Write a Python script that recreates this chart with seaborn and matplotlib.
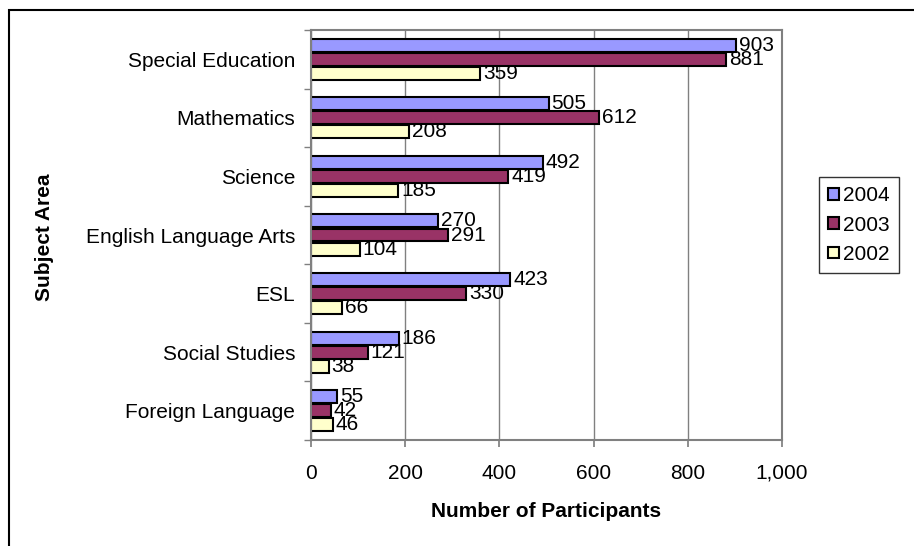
import matplotlib
matplotlib.use("Agg")
import matplotlib.pyplot as plt
import seaborn as sns
import pandas as pd
import numpy as np
from matplotlib.patches import Rectangle
from matplotlib.ticker import FuncFormatter, FixedLocator

subjects = ["Special Education", "Mathematics", "Science", "English Language Arts",
            "ESL", "Social Studies", "Foreign Language"]
years = ["2004", "2003", "2002"]
v2004 = [903, 505, 492, 270, 423, 186, 55]
v2003 = [881, 612, 419, 291, 330, 121, 42]
v2002 = [359, 208, 185, 104, 66, 38, 46]
colors = ["#9999FF", "#993366", "#FFFFCC"]

rows = []
for y, vals in zip(years, [v2004, v2003, v2002]):
    for s, v in zip(subjects, vals):
        rows.append({"Subject": s, "Year": y, "Value": v})
df = pd.DataFrame(rows)

sns.set_theme(style="white")
plt.rcParams['font.family'] = ['Liberation Sans', 'DejaVu Sans']
for k in ["text.color", "axes.labelcolor", "xtick.labelcolor", "ytick.labelcolor"]:
    plt.rcParams[k] = "black"

FS = 15

fig = plt.figure(figsize=(9.14, 5.46), dpi=100)
ax = fig.add_axes([311/914, 1-440/546, (782-311)/914, (440-30)/546])

sns.barplot(data=df, y="Subject", x="Value", hue="Year", order=subjects,
            hue_order=years, palette=colors, orient="h", width=0.72, gap=0.08,
            saturation=1, edgecolor="black", linewidth=1.5, ax=ax)

for c in ax.containers:
    ax.bar_label(c, padding=2, fontsize=FS, color="black")

ax.set_xlim(0, 1000)
ax.set_xticks([0, 200, 400, 600, 800, 1000])
ax.xaxis.set_major_formatter(FuncFormatter(lambda v, p: f"{int(v):,}"))
ax.grid(axis="x", color="#808080", linewidth=1)
ax.grid(axis="y", visible=False)
ax.set_axisbelow(True)
for sp in ax.spines.values():
    sp.set_visible(True)
    sp.set_color("#808080")
    sp.set_linewidth(1.5)

ax.tick_params(axis="x", which="major", direction="out", length=5, color="#808080",
               labelsize=FS, pad=12, bottom=True, labelcolor="black")
ax.tick_params(axis="y", which="major", length=0, labelsize=FS, pad=11.5, labelcolor="black")
ax.yaxis.set_minor_locator(FixedLocator(np.arange(-0.5, 7, 1)))
ax.tick_params(axis="y", which="minor", direction="out", length=5, color="#808080", left=True)

ax.set_xlabel("Number of Participants", fontsize=FS, fontweight="bold", labelpad=14,
              color="black")
ax.set_ylabel("")
fig.text(44/914, 1-237/546, "Subject Area", rotation=90, fontsize=FS, fontweight="bold",
         ha="center", va="center", color="black")

leg = ax.legend(loc="center", bbox_to_anchor=(859/914, 1-225/546),
                bbox_transform=fig.transFigure, frameon=True, fontsize=FS,
                handlelength=0.5, handleheight=0.5, handletextpad=0.2,
                labelspacing=0.5, borderpad=0.45, borderaxespad=0, fancybox=False)
leg.get_frame().set_edgecolor("black")
leg.get_frame().set_linewidth(1)
for t in leg.get_texts():
    t.set_color("black")
for h in leg.legend_handles:
    h.set_edgecolor("black")
    h.set_linewidth(1.5)

fig.patches.append(Rectangle((9/914, -0.1), 1.2, 1 - 10/546 + 0.1,
                             transform=fig.transFigure, fill=False,
                             edgecolor="black", linewidth=1.5))

fig.savefig("out.png", dpi=100)
